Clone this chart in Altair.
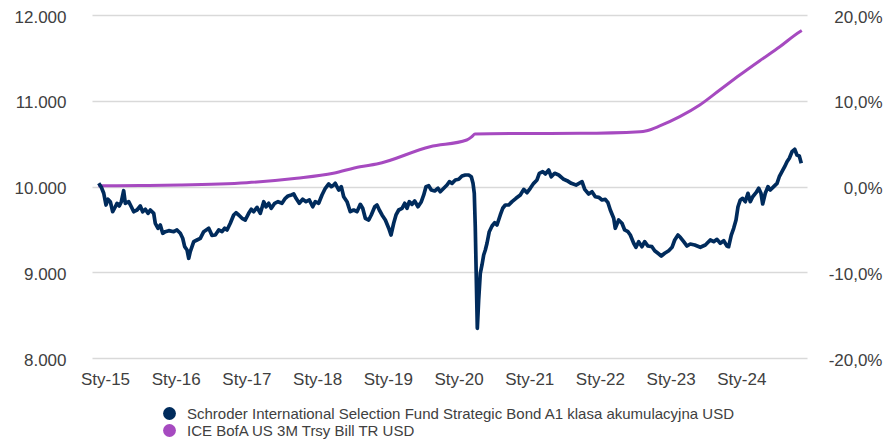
import altair as alt
import pandas as pd

fund_name = "Schroder International Selection Fund Strategic Bond A1 klasa akumulacyjna USD"
ice_name = "ICE BofA US 3M Trsy Bill TR USD"

# fund value (growth of 10 000), time as decimal year
fund_t = [
    2014.911, 2014.948, 2014.982, 2015.014, 2015.042, 2015.075, 2015.109, 2015.146, 2015.170, 2015.202,
    2015.231, 2015.264, 2015.287, 2015.335, 2015.372, 2015.406, 2015.453, 2015.499, 2015.533, 2015.570,
    2015.608, 2015.641, 2015.689, 2015.711, 2015.750, 2015.782, 2015.816, 2015.853, 2015.901, 2015.972,
    2016.018, 2016.065, 2016.099, 2016.127, 2016.160, 2016.184, 2016.206, 2016.255, 2016.301, 2016.348,
    2016.396, 2016.467, 2016.513, 2016.560, 2016.608, 2016.655, 2016.693, 2016.726, 2016.772, 2016.820,
    2016.853, 2016.891, 2016.938, 2016.984, 2017.032, 2017.069, 2017.103, 2017.150, 2017.197, 2017.245,
    2017.277, 2017.315, 2017.352, 2017.400, 2017.447, 2017.503, 2017.550, 2017.588, 2017.635, 2017.669,
    2017.702, 2017.748, 2017.796, 2017.843, 2017.890, 2017.938, 2017.974, 2018.022, 2018.069, 2018.116,
    2018.164, 2018.201, 2018.235, 2018.257, 2018.305, 2018.342, 2018.376, 2018.423, 2018.469, 2018.517,
    2018.564, 2018.611, 2018.645, 2018.682, 2018.730, 2018.766, 2018.815, 2018.847, 2018.880, 2018.918,
    2018.965, 2019.013, 2019.045, 2019.083, 2019.116, 2019.154, 2019.201, 2019.239, 2019.271, 2019.304,
    2019.342, 2019.380, 2019.427, 2019.474, 2019.508, 2019.540, 2019.578, 2019.615, 2019.663, 2019.710,
    2019.742, 2019.791, 2019.837, 2019.870, 2019.908, 2019.955, 2020.003, 2020.049, 2020.096, 2020.144,
    2020.181, 2020.205, 2020.223, 2020.237, 2020.251, 2020.266, 2020.285, 2020.308, 2020.332, 2020.356,
    2020.379, 2020.403, 2020.435, 2020.474, 2020.512, 2020.544, 2020.591, 2020.625, 2020.662, 2020.710,
    2020.757, 2020.813, 2020.874, 2020.922, 2020.969, 2021.015, 2021.063, 2021.110, 2021.143, 2021.191,
    2021.228, 2021.276, 2021.312, 2021.360, 2021.417, 2021.488, 2021.535, 2021.595, 2021.662, 2021.747,
    2021.785, 2021.841, 2021.888, 2021.935, 2021.983, 2022.030, 2022.076, 2022.114, 2022.147, 2022.195,
    2022.217, 2022.265, 2022.312, 2022.350, 2022.397, 2022.430, 2022.478, 2022.510, 2022.548, 2022.595,
    2022.633, 2022.680, 2022.736, 2022.775, 2022.821, 2022.868, 2022.916, 2022.973, 2023.020, 2023.058,
    2023.104, 2023.137, 2023.185, 2023.232, 2023.278, 2023.341, 2023.420, 2023.491, 2023.561, 2023.609,
    2023.656, 2023.703, 2023.751, 2023.797, 2023.821, 2023.858, 2023.892, 2023.925, 2023.953, 2023.986,
    2024.019, 2024.056, 2024.094, 2024.127, 2024.161, 2024.208, 2024.246, 2024.278, 2024.302, 2024.339,
    2024.377, 2024.410, 2024.458, 2024.505, 2024.537, 2024.575, 2024.613, 2024.646, 2024.679, 2024.717,
    2024.755, 2024.787, 2024.820, 2024.848,
]
fund_v = [
    10037, 9991, 9921, 9784, 9851, 9823, 9706, 9764, 9804, 9773,
    9823, 9951, 9804, 9823, 9764, 9706, 9726, 9773, 9706, 9734,
    9687, 9726, 9687, 9571, 9513, 9551, 9454, 9473, 9485, 9473,
    9493, 9454, 9396, 9298, 9260, 9163, 9240, 9356, 9376, 9396,
    9473, 9513, 9430, 9434, 9493, 9473, 9513, 9493, 9571, 9668,
    9694, 9668, 9629, 9609, 9687, 9734, 9706, 9757, 9687, 9823,
    9764, 9804, 9746, 9804, 9823, 9804, 9862, 9889, 9901, 9913,
    9862, 9804, 9851, 9823, 9843, 9764, 9823, 9804, 9901, 9979,
    10029, 9998, 10017, 10037, 9959, 9998, 9881, 9823, 9706, 9726,
    9706, 9792, 9746, 9629, 9609, 9668, 9764, 9784, 9726, 9668,
    9609, 9513, 9434, 9571, 9668, 9726, 9746, 9804, 9746, 9823,
    9792, 9831, 9764, 9823, 9901, 9998, 10009, 9959, 9948, 9979,
    9939, 9979, 10017, 10056, 10037, 10076, 10084, 10122, 10134, 10134,
    10114, 10037, 9921, 9531, 8948, 8346, 8676, 8988, 9085, 9201,
    9260, 9338, 9473, 9539, 9578, 9551, 9668, 9746, 9784, 9784,
    9823, 9862, 9901, 9967, 9928, 9979, 10037, 10076, 10154, 10173,
    10146, 10192, 10114, 10154, 10134, 10084, 10068, 10037, 10017, 10056,
    9967, 9913, 9939, 9881, 9874, 9843, 9851, 9811, 9726, 9629,
    9513, 9609, 9571, 9493, 9473, 9434, 9338, 9291, 9356, 9298,
    9356, 9306, 9298, 9251, 9221, 9189, 9221, 9251, 9291, 9376,
    9434, 9408, 9356, 9306, 9329, 9318, 9291, 9318, 9376, 9356,
    9384, 9338, 9368, 9306, 9298, 9434, 9513, 9609, 9764, 9843,
    9862, 9823, 9921, 9823, 9881, 9928, 9979, 9921, 9796, 9921,
    9998, 9959, 9998, 10037, 10114, 10173, 10231, 10289, 10329, 10406,
    10434, 10367, 10356, 10271,
]

# benchmark cumulative return (right axis)
ice_t = [2014.905, 2015.495, 2016.061, 2017.004, 2017.711, 2018.229, 2018.607, 2018.843,
         2019.597, 2020.116, 2020.191, 2020.233, 2020.870, 2021.719, 2022.567, 2022.662,
         2022.846, 2023.129, 2023.412, 2023.695, 2023.978, 2024.261, 2024.544, 2024.827, 2024.855]
ice_pct = [0.0009, 0.0012, 0.0017, 0.0044, 0.0096, 0.0154, 0.0231, 0.0262,
           0.0464, 0.0542, 0.0583, 0.0612, 0.0618, 0.0620, 0.0639, 0.0651,
           0.0706, 0.0814, 0.0950, 0.1125, 0.1300, 0.1467, 0.1630, 0.1805, 0.1819]

year_ticks = [2015, 2016, 2017, 2018, 2019, 2020, 2021, 2022, 2023, 2024]
left_ticks = [8000, 9000, 10000, 11000, 12000]
right_ticks = [-0.2, -0.1, 0.0, 0.1, 0.2]

series_names = [fund_name, ice_name]
series_colors = ["#002b5c", "#a64ac0"]

fund_df = pd.DataFrame({"t": fund_t, "v": fund_v})
ice_df = pd.DataFrame({"t": ice_t, "p": ice_pct})
legend_df = pd.DataFrame({"series": series_names})

FONT = "Liberation Sans"
LABEL_COLOR = "#404040"

x_enc = alt.X(
    "t:Q",
    scale=alt.Scale(domain=[2014.816, 2024.929], nice=False, zero=False),
    axis=alt.Axis(values=year_ticks, labelExpr="'Sty-' + format(datum.value - 2000, 'd')",
                  grid=False, domain=False, ticks=False, labelPadding=13, title=None,
                  labelFontSize=17),
)

ice = alt.Chart(ice_df).mark_line(strokeWidth=3, interpolate="monotone", color=series_colors[1]).encode(
    x=x_enc,
    y=alt.Y("p:Q", scale=alt.Scale(domain=[-0.2, 0.2], nice=False, zero=False),
            axis=alt.Axis(orient="right", values=right_ticks, grid=False, domain=False, ticks=False,
                          labelAlign="right", labelPadding=75, labelOffset=2, title=None, labelFontSize=17,
                          labelExpr="(datum.value < -0.0001 ? '-' : '') + replace(format(abs(datum.value), '.1%'), '.', ',')")),
)

fund = alt.Chart(fund_df).mark_line(strokeWidth=3.7, strokeJoin="round", color=series_colors[0]).encode(
    x=x_enc,
    y=alt.Y("v:Q", scale=alt.Scale(domain=[8000, 12000], nice=False, zero=False),
            axis=alt.Axis(orient="left", values=left_ticks, grid=True, gridColor="#d9d9d9", gridWidth=1.5,
                          domain=False, ticks=False, labelPadding=26, labelOffset=2, title=None, labelFontSize=17,
                          labelExpr="replace(format(datum.value, ','), ',', '.')")),
)

legend_layer = alt.Chart(legend_df).mark_circle(size=0, opacity=1).encode(
    color=alt.Color("series:N", scale=alt.Scale(domain=series_names, range=series_colors),
                    sort=series_names,
                    legend=alt.Legend(orient="none", legendX=70, legendY=391, direction="vertical",
                                      title=None, symbolType="circle", symbolSize=165,
                                      symbolStrokeWidth=0, symbolOpacity=1,
                                      labelFontSize=15, labelColor=LABEL_COLOR, labelFont=FONT,
                                      labelOffset=10, labelLimit=1000, rowPadding=1)),
)

chart = alt.layer(ice, fund, legend_layer).resolve_scale(y="independent").properties(
    width=715, height=343,
    autosize=alt.AutoSizeParams(type="none"),
    padding={"left": 84, "top": 7, "right": 78, "bottom": 84},
).configure_view(stroke=None).configure_axis(
    labelFont=FONT, labelColor=LABEL_COLOR,
)

chart.save("out.html", embed_options={"renderer": "svg", "actions": False})
